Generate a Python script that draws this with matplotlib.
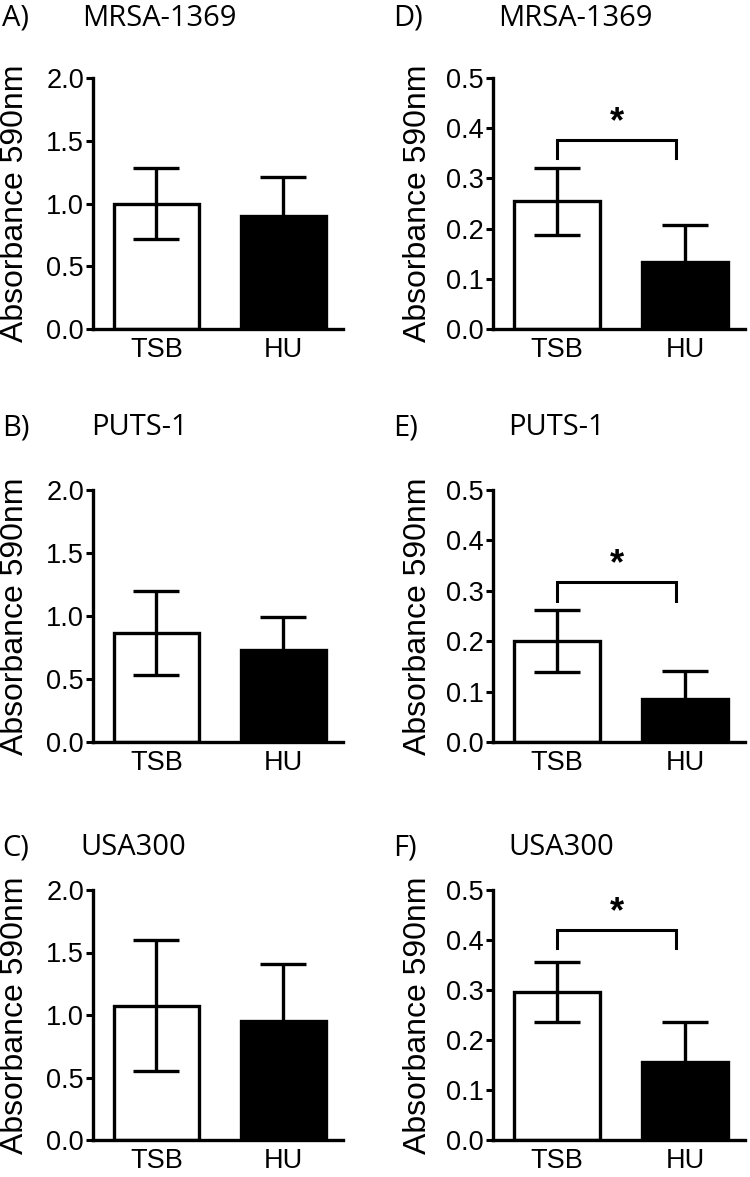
import matplotlib.pyplot as plt
import numpy as np

plt.rcParams["font.family"] = ["Liberation Sans", "DejaVu Sans"]

groups = ["TSB", "HU"]
strains = ["MRSA-1369", "PUTS-1", "USA300"]
left_letters = ["A)", "B)", "C)"]
right_letters = ["D)", "E)", "F)"]

# left column (scale 0-2.0)
left_mean = [[1.00, 0.90], [0.865, 0.73], [1.075, 0.955]]
left_err = [[0.286, 0.31], [0.33, 0.26], [0.525, 0.455]]
left_ticks = [0.0, 0.5, 1.0, 1.5, 2.0]

# right column (scale 0-0.5)
right_mean = [[0.254, 0.134], [0.200, 0.086], [0.297, 0.156]]
right_err = [[0.066, 0.074], [0.061, 0.054], [0.060, 0.081]]
right_ticks = [0.0, 0.1, 0.2, 0.3, 0.4, 0.5]
bracket_top = [0.376, 0.318, 0.42]
bracket_leg = [0.34, 0.28, 0.385]
bracket_x = [0.0, 0.93]

W, H = 750, 1177
fig = plt.figure(figsize=(7.5, 11.77), dpi=100)

row_top = [78, 490, 890]
row_bot = [329, 742, 1140]
title_base = [26, 435, 855]
left_title_x = [82, 91, 80]
right_title_x = [498, 508, 508]


def draw_panel(ax, means, errs, ticks, label_x):
    x = np.arange(len(groups))
    ax.bar(x, means, width=0.67, color=["white", "black"], edgecolor="black",
           linewidth=2.4, zorder=2)
    ax.errorbar(x, means, yerr=errs, fmt="none", ecolor="black", elinewidth=2.4,
                capsize=16.5, capthick=2.4, zorder=3)
    ax.set_xlim(-0.5, 1.47)
    ax.set_ylim(ticks[0], ticks[-1])
    ax.set_yticks(ticks)
    ax.set_yticklabels(["%.1f" % t for t in ticks])
    ax.set_xticks(x)
    ax.set_xticklabels(groups)
    for s in ["top", "right"]:
        ax.spines[s].set_visible(False)
    for s in ["left", "bottom"]:
        ax.spines[s].set_linewidth(2.4)
    ax.tick_params(axis="y", length=5, width=2.2, pad=1.5, labelsize=19.5)
    ax.tick_params(axis="x", length=0, pad=6, labelsize=19.5)
    ax.set_ylabel("Absorbance 590nm", fontsize=23)
    ax.yaxis.set_label_coords(label_x, 0.5)


for i in range(3):
    b = 1 - row_bot[i] / H
    h = (row_bot[i] - row_top[i]) / H

    axl = fig.add_axes([93 / W, b, 250 / W, h])
    draw_panel(axl, left_mean[i], left_err[i], left_ticks, -0.252)

    axr = fig.add_axes([493 / W, b, 252 / W, h])
    draw_panel(axr, right_mean[i], right_err[i], right_ticks, -0.24)
    axr.plot([bracket_x[0], bracket_x[0], bracket_x[1], bracket_x[1]],
             [bracket_leg[i], bracket_top[i], bracket_top[i], bracket_leg[i]],
             color="black", lw=2.2, solid_joinstyle="miter", zorder=4)
    axr.annotate("*", xy=(np.mean(bracket_x), bracket_top[i]), xytext=(0, 0),
                 textcoords="offset points", ha="center", va="bottom",
                 fontsize=26, fontweight="bold")

    yb = 1 - title_base[i] / H
    fig.text(2 / W, yb, left_letters[i], fontsize=21, family="Open Sans", va="baseline")
    fig.text(left_title_x[i] / W, yb, strains[i], fontsize=21, family="Open Sans", va="baseline")
    fig.text(393 / W, yb, right_letters[i], fontsize=21, family="Open Sans", va="baseline")
    fig.text(right_title_x[i] / W, yb, strains[i], fontsize=21, family="Open Sans", va="baseline")

fig.savefig("out.png", dpi=100)
